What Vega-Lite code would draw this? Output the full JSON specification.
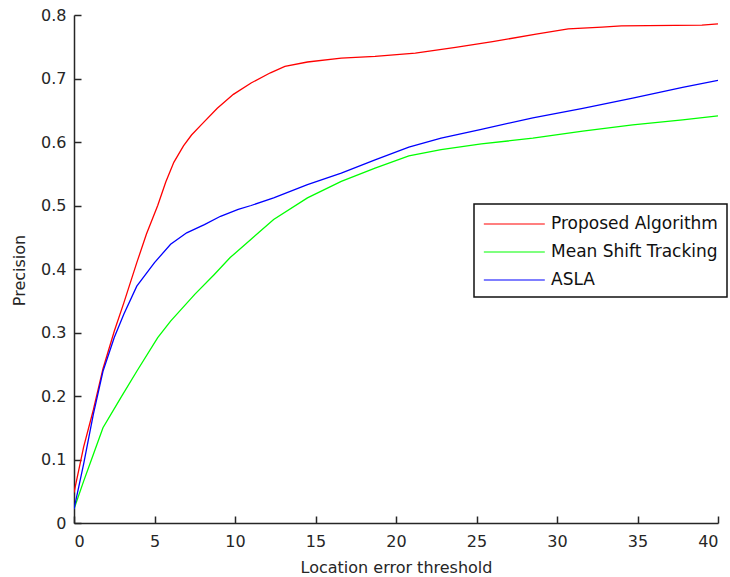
{
  "$schema": "https://vega.github.io/schema/vega-lite/v6.json",
  "autosize": {"type": "none"},
  "padding": {"left": 74, "top": 15, "right": 12, "bottom": 54},
  "width": 644,
  "height": 508,
  "background": "white",
  "config": {
    "view": {"stroke": null},
    "font": "DejaVu Sans",
    "axis": {
      "grid": false,
      "domainColor": "#262626",
      "domainWidth": 1.5,
      "ticks": true,
      "tickColor": "#262626",
      "tickWidth": 1.5,
      "tickSize": -7,
      "labelFont": "DejaVu Sans",
      "labelFontSize": 16,
      "labelColor": "#262626",
      "titleFont": "DejaVu Sans",
      "titleFontSize": 16,
      "titleFontWeight": "normal",
      "titleColor": "#262626"
    },
    "legend": {
      "orient": "none",
      "legendX": 400,
      "legendY": 189,
      "fillColor": "white",
      "strokeColor": "#111111",
      "strokeWidth": 1.5,
      "padding": 9,
      "symbolType": "M-1,0H5",
      "symbolSize": 413,
      "symbolStrokeWidth": 1.2,
      "labelFont": "DejaVu Sans",
      "labelFontSize": 17,
      "labelColor": "#111111",
      "labelOffset": 46,
      "labelLimit": 400,
      "rowPadding": 9,
      "titleFontSize": 0
    }
  },
  "data": {
    "values": [
      {"method": "Proposed Algorithm", "t": 0, "p": 0.048},
      {"method": "Proposed Algorithm", "t": 0.6, "p": 0.12},
      {"method": "Proposed Algorithm", "t": 1.2, "p": 0.178},
      {"method": "Proposed Algorithm", "t": 1.8, "p": 0.243},
      {"method": "Proposed Algorithm", "t": 2.5, "p": 0.302},
      {"method": "Proposed Algorithm", "t": 3.1, "p": 0.347},
      {"method": "Proposed Algorithm", "t": 3.9, "p": 0.41},
      {"method": "Proposed Algorithm", "t": 4.5, "p": 0.455},
      {"method": "Proposed Algorithm", "t": 5.2, "p": 0.5},
      {"method": "Proposed Algorithm", "t": 5.7, "p": 0.537},
      {"method": "Proposed Algorithm", "t": 6.2, "p": 0.568},
      {"method": "Proposed Algorithm", "t": 6.8, "p": 0.594},
      {"method": "Proposed Algorithm", "t": 7.3, "p": 0.611},
      {"method": "Proposed Algorithm", "t": 7.9, "p": 0.627},
      {"method": "Proposed Algorithm", "t": 8.9, "p": 0.653},
      {"method": "Proposed Algorithm", "t": 9.9, "p": 0.675},
      {"method": "Proposed Algorithm", "t": 11.0, "p": 0.693},
      {"method": "Proposed Algorithm", "t": 12.2, "p": 0.709},
      {"method": "Proposed Algorithm", "t": 13.1, "p": 0.719},
      {"method": "Proposed Algorithm", "t": 14.5, "p": 0.726},
      {"method": "Proposed Algorithm", "t": 16.6, "p": 0.732},
      {"method": "Proposed Algorithm", "t": 18.7, "p": 0.735},
      {"method": "Proposed Algorithm", "t": 21.2, "p": 0.74},
      {"method": "Proposed Algorithm", "t": 23.7, "p": 0.749},
      {"method": "Proposed Algorithm", "t": 26.0, "p": 0.758},
      {"method": "Proposed Algorithm", "t": 28.7, "p": 0.77},
      {"method": "Proposed Algorithm", "t": 30.7, "p": 0.778},
      {"method": "Proposed Algorithm", "t": 32.8, "p": 0.781},
      {"method": "Proposed Algorithm", "t": 34.0, "p": 0.783},
      {"method": "Proposed Algorithm", "t": 39.0, "p": 0.784},
      {"method": "Proposed Algorithm", "t": 40.0, "p": 0.786},
      {"method": "Mean Shift Tracking", "t": 0, "p": 0.022},
      {"method": "Mean Shift Tracking", "t": 0.6, "p": 0.066},
      {"method": "Mean Shift Tracking", "t": 1.2, "p": 0.108},
      {"method": "Mean Shift Tracking", "t": 1.8, "p": 0.15},
      {"method": "Mean Shift Tracking", "t": 2.9, "p": 0.197},
      {"method": "Mean Shift Tracking", "t": 3.9, "p": 0.239},
      {"method": "Mean Shift Tracking", "t": 5.2, "p": 0.292},
      {"method": "Mean Shift Tracking", "t": 6.0, "p": 0.318},
      {"method": "Mean Shift Tracking", "t": 7.5, "p": 0.36},
      {"method": "Mean Shift Tracking", "t": 8.7, "p": 0.391},
      {"method": "Mean Shift Tracking", "t": 9.7, "p": 0.418},
      {"method": "Mean Shift Tracking", "t": 11.0, "p": 0.447},
      {"method": "Mean Shift Tracking", "t": 12.4, "p": 0.478},
      {"method": "Mean Shift Tracking", "t": 14.5, "p": 0.512},
      {"method": "Mean Shift Tracking", "t": 16.6, "p": 0.538},
      {"method": "Mean Shift Tracking", "t": 18.7, "p": 0.559},
      {"method": "Mean Shift Tracking", "t": 20.8, "p": 0.578},
      {"method": "Mean Shift Tracking", "t": 22.8, "p": 0.588},
      {"method": "Mean Shift Tracking", "t": 25.3, "p": 0.597},
      {"method": "Mean Shift Tracking", "t": 28.5, "p": 0.606},
      {"method": "Mean Shift Tracking", "t": 31.6, "p": 0.617},
      {"method": "Mean Shift Tracking", "t": 34.7, "p": 0.627},
      {"method": "Mean Shift Tracking", "t": 37.8, "p": 0.635},
      {"method": "Mean Shift Tracking", "t": 40.0, "p": 0.641},
      {"method": "ASLA", "t": 0, "p": 0.022},
      {"method": "ASLA", "t": 0.6, "p": 0.093},
      {"method": "ASLA", "t": 1.2, "p": 0.171},
      {"method": "ASLA", "t": 1.8, "p": 0.239},
      {"method": "ASLA", "t": 2.5, "p": 0.292},
      {"method": "ASLA", "t": 3.1, "p": 0.329},
      {"method": "ASLA", "t": 3.9, "p": 0.373},
      {"method": "ASLA", "t": 5.0, "p": 0.41},
      {"method": "ASLA", "t": 6.0, "p": 0.439},
      {"method": "ASLA", "t": 7.0, "p": 0.457},
      {"method": "ASLA", "t": 8.1, "p": 0.47},
      {"method": "ASLA", "t": 9.1, "p": 0.483},
      {"method": "ASLA", "t": 10.2, "p": 0.494},
      {"method": "ASLA", "t": 11.0, "p": 0.5},
      {"method": "ASLA", "t": 12.4, "p": 0.512},
      {"method": "ASLA", "t": 14.5, "p": 0.533},
      {"method": "ASLA", "t": 16.6, "p": 0.551},
      {"method": "ASLA", "t": 18.7, "p": 0.572},
      {"method": "ASLA", "t": 20.8, "p": 0.592},
      {"method": "ASLA", "t": 22.8, "p": 0.606},
      {"method": "ASLA", "t": 25.3, "p": 0.62},
      {"method": "ASLA", "t": 28.5, "p": 0.638},
      {"method": "ASLA", "t": 31.6, "p": 0.653},
      {"method": "ASLA", "t": 34.7, "p": 0.669},
      {"method": "ASLA", "t": 37.8, "p": 0.686},
      {"method": "ASLA", "t": 40.0, "p": 0.697}
    ]
  },
  "mark": {"type": "line", "strokeWidth": 1.3, "clip": true},
  "encoding": {
    "x": {
      "field": "t",
      "type": "quantitative",
      "scale": {"domain": [0, 40], "nice": false, "zero": false},
      "axis": {
        "values": [0, 5, 10, 15, 20, 25, 30, 35, 40],
        "format": "d",
        "tickSize": -7,
        "labelPadding": 17,
        "title": "Location error threshold",
        "titleBaseline": "alphabetic",
        "titleY": 49
      }
    },
    "y": {
      "field": "p",
      "type": "quantitative",
      "scale": {"domain": [0, 0.8], "nice": false},
      "axis": {
        "values": [0, 0.1, 0.2, 0.3, 0.4, 0.5, 0.6, 0.7, 0.8],
        "format": "~g",
        "tickSize": -7,
        "labelPadding": 15,
        "title": "Precision",
        "titleX": -50,
        "titleY": 255,
        "titleAlign": "center",
        "titleBaseline": "alphabetic",
        "titleAngle": -90
      }
    },
    "color": {
      "field": "method",
      "type": "nominal",
      "sort": null,
      "scale": {
        "domain": ["Proposed Algorithm", "Mean Shift Tracking", "ASLA"],
        "range": ["#ff0000", "#00ff00", "#0000ff"]
      },
      "legend": {"title": null}
    }
  }
}
